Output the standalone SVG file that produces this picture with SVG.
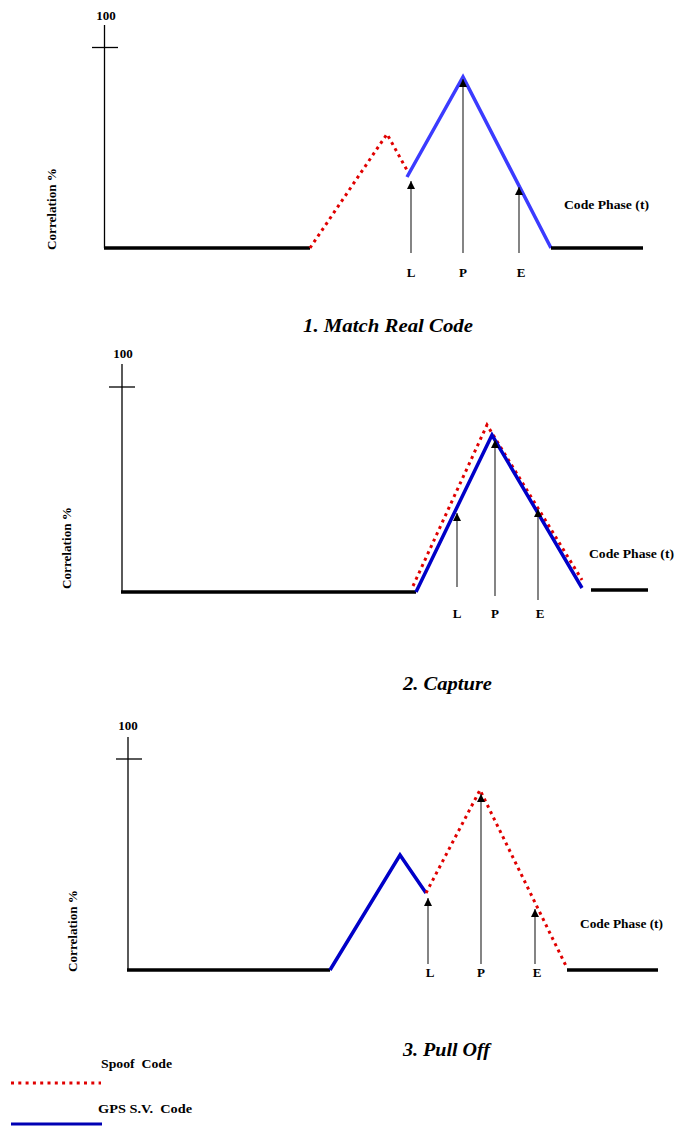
<svg xmlns="http://www.w3.org/2000/svg" width="675" height="1126" viewBox="0 0 675 1126">
<style>
.lbl{font-family:"Liberation Serif","Times New Roman",serif;font-weight:bold;font-size:13px;fill:#000}
.cap{font-family:"Liberation Serif","Times New Roman",serif;font-style:italic;font-weight:bold;font-size:19px;fill:#000}
.axis{stroke:#000;stroke-width:1.3;fill:none}
.base{stroke:#000;stroke-width:3.5;fill:none}
.spoof{stroke:#e00000;stroke-width:3;stroke-dasharray:3 4;fill:none}
.gps1{stroke:#3b3bff;stroke-width:3.5;fill:none}
.gps{stroke:#0000c8;stroke-width:3.5;fill:none}
.arr{stroke:#333;stroke-width:1.2;fill:none;marker-end:url(#ah)}
</style>
<defs>
<marker id="ah" markerUnits="userSpaceOnUse" markerWidth="9" markerHeight="9" refX="8" refY="4" orient="auto" viewBox="0 0 9 9">
<path d="M0,0 L8,4 L0,8 Z" fill="#000"/>
</marker>
</defs>
<rect width="675" height="1126" fill="#fff"/>

<!-- Panel 1 -->
<g id="panel1">
<g id="p1-axes">
<line class="axis" x1="104.5" y1="25" x2="104.5" y2="248"/>
<line class="axis" x1="92" y1="47.5" x2="118" y2="47.5"/>
<text class="lbl" x="106" y="20" text-anchor="middle">100</text>
<text class="lbl" transform="translate(56,209) rotate(-90)" text-anchor="middle" textLength="82" lengthAdjust="spacingAndGlyphs">Correlation %</text>
<text class="lbl" x="564" y="209" textLength="85" lengthAdjust="spacingAndGlyphs">Code Phase (t)</text>
</g>
<g id="p1-curves">
<line class="base" x1="104" y1="248" x2="310" y2="248"/>
<polyline class="spoof" points="310,248 387,134 408,172"/>
<polyline class="gps1" points="407,177 463,77 551,248"/>
<line class="base" x1="551" y1="248" x2="643" y2="248"/>
</g>
<g id="p1-markers">
<line class="arr" x1="411" y1="253" x2="411" y2="181"/>
<line class="arr" x1="463" y1="253" x2="463" y2="79"/>
<line class="arr" x1="519" y1="253" x2="519" y2="187"/>
<text class="lbl" x="411" y="277" text-anchor="middle">L</text>
<text class="lbl" x="463" y="277" text-anchor="middle">P</text>
<text class="lbl" x="521" y="277" text-anchor="middle">E</text>
</g>
<text class="cap" x="303" y="332" textLength="170" lengthAdjust="spacingAndGlyphs">1. Match Real Code</text>
</g>

<!-- Panel 2 -->
<g id="panel2">
<g id="p2-axes">
<line class="axis" x1="122" y1="364" x2="122" y2="592"/>
<line class="axis" x1="109" y1="387" x2="135" y2="387"/>
<text class="lbl" x="123" y="358" text-anchor="middle">100</text>
<text class="lbl" transform="translate(71,548) rotate(-90)" text-anchor="middle" textLength="82" lengthAdjust="spacingAndGlyphs">Correlation %</text>
<text class="lbl" x="589" y="558" textLength="85" lengthAdjust="spacingAndGlyphs">Code Phase (t)</text>
</g>
<g id="p2-curves">
<line class="base" x1="121" y1="592" x2="416" y2="592"/>
<polyline class="spoof" points="413,586 487,425 582,580"/>
<polyline class="gps" points="416,592 492,435 582,588"/>
<line class="base" x1="591" y1="590" x2="648" y2="590"/>
</g>
<g id="p2-markers">
<line class="arr" x1="457" y1="587" x2="457" y2="513"/>
<line class="arr" x1="495" y1="596" x2="495" y2="440"/>
<line class="arr" x1="538" y1="600" x2="538" y2="509"/>
<text class="lbl" x="457" y="618" text-anchor="middle">L</text>
<text class="lbl" x="495" y="618" text-anchor="middle">P</text>
<text class="lbl" x="540" y="618" text-anchor="middle">E</text>
</g>
<text class="cap" x="403" y="690" textLength="89" lengthAdjust="spacingAndGlyphs">2. Capture</text>
</g>

<!-- Panel 3 -->
<g id="panel3">
<g id="p3-axes">
<line class="axis" x1="128" y1="737" x2="128" y2="970"/>
<line class="axis" x1="116" y1="759" x2="142" y2="759"/>
<text class="lbl" x="128" y="730" text-anchor="middle">100</text>
<text class="lbl" transform="translate(77,931) rotate(-90)" text-anchor="middle" textLength="82" lengthAdjust="spacingAndGlyphs">Correlation %</text>
<text class="lbl" x="580" y="928" textLength="83" lengthAdjust="spacingAndGlyphs">Code Phase (t)</text>
</g>
<g id="p3-curves">
<line class="base" x1="127" y1="970" x2="330" y2="970"/>
<polyline class="gps" points="330,970 400,855 426,893"/>
<polyline class="spoof" points="426,893 480,790 567,968"/>
<line class="base" x1="567" y1="970" x2="658" y2="970"/>
</g>
<g id="p3-markers">
<line class="arr" x1="428" y1="964" x2="428" y2="898"/>
<line class="arr" x1="481" y1="964" x2="481" y2="794"/>
<line class="arr" x1="535" y1="964" x2="535" y2="909"/>
<text class="lbl" x="430" y="977" text-anchor="middle">L</text>
<text class="lbl" x="481" y="977" text-anchor="middle">P</text>
<text class="lbl" x="537" y="977" text-anchor="middle">E</text>
</g>
<text class="cap" x="403" y="1056" textLength="87" lengthAdjust="spacingAndGlyphs">3. Pull Off</text>
</g>

<!-- Legend -->
<g id="legend">
<text class="lbl" x="101" y="1068" textLength="71" lengthAdjust="spacingAndGlyphs" xml:space="preserve">Spoof  Code</text>
<line x1="11" y1="1083" x2="101" y2="1083" stroke="#e00000" stroke-width="3" stroke-dasharray="3 4.3"/>
<text class="lbl" x="98" y="1113" textLength="94" lengthAdjust="spacingAndGlyphs" xml:space="preserve">GPS S.V.  Code</text>
<line x1="11" y1="1124" x2="102" y2="1124" stroke="#0000b4" stroke-width="3"/>
</g>
</svg>
